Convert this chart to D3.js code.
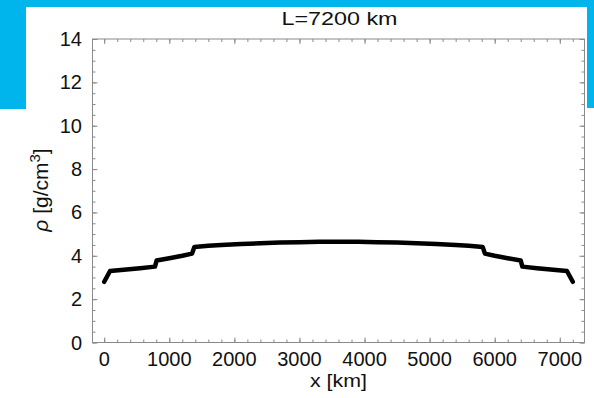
<!DOCTYPE html>
<html>
<head>
<meta charset="utf-8">
<script src="https://cdn.jsdelivr.net/npm/d3@7"></script>
<style>
  html, body { margin: 0; padding: 0; background: #fff; }
  svg { display: block; }
  text { font-family: "Liberation Sans", Arial, Helvetica, sans-serif; fill: #111; }
</style>
</head>
<body>
<svg id="chart" width="594" height="398"></svg>
<script>
// Density along a 7200 km chord through the Earth
const xKm = [0, 90, 300, 550, 780, 805, 1000, 1200, 1350, 1385, 1600, 1800, 2100, 2400, 2700, 3000, 3300, 3600,
             3900, 4200, 4500, 4800, 5100, 5400, 5600, 5815, 5850, 6000, 6200, 6400, 6425, 6650, 6900, 7110, 7200];
const rho = [2.8, 3.3, 3.36, 3.43, 3.5, 3.78, 3.89, 4.0, 4.1, 4.4, 4.46, 4.5, 4.54, 4.58, 4.61, 4.63, 4.645, 4.65,
             4.645, 4.63, 4.61, 4.58, 4.54, 4.5, 4.46, 4.4, 4.1, 4.0, 3.89, 3.78, 3.5, 3.43, 3.36, 3.3, 2.8];

const xTicks = [0, 1000, 2000, 3000, 4000, 5000, 6000, 7000];
const yTicks = [0, 2, 4, 6, 8, 10, 12, 14];
const titleText = "L=7200 km";

const svg = d3.select("#chart");
const W = 594, H = 398;

// page decoration: cyan band and side blocks behind a white panel
const cyan = "#00b5ec";
svg.append("rect").attr("x", 0).attr("y", 0).attr("width", W).attr("height", 7).attr("fill", cyan);
svg.append("rect").attr("x", 0).attr("y", 0).attr("width", 26).attr("height", 109).attr("fill", cyan);
svg.append("rect").attr("x", 587).attr("y", 0).attr("width", 7).attr("height", 108).attr("fill", cyan);

const plot = { left: 92.5, right: 584.5, top: 39, bottom: 342.5 };

const x = d3.scaleLinear().domain([-180, 7380]).range([plot.left, plot.right]);
const y = d3.scaleLinear().domain([0, 14]).range([plot.bottom, plot.top]);

const frameColor = "#8a8a8a";

// strip an axis down to its tick marks
function tickLines(g) { g.select(".domain").remove(); g.selectAll("text").remove(); g.selectAll("line").attr("stroke", frameColor); }

const xMinor = d3.range(0, 7201, 200);
const yMinor = d3.range(0, 14.01, 0.5);

// minor + major ticks, drawn inward on all four sides
svg.append("g").attr("transform", `translate(0,${plot.bottom})`)
  .call(d3.axisTop(x).tickValues(xMinor).tickSize(3)).call(tickLines);
svg.append("g").attr("transform", `translate(0,${plot.bottom})`)
  .call(d3.axisTop(x).tickValues(xTicks).tickSize(5)).call(tickLines);
svg.append("g").attr("transform", `translate(0,${plot.top})`)
  .call(d3.axisBottom(x).tickValues(xMinor).tickSize(3)).call(tickLines);
svg.append("g").attr("transform", `translate(0,${plot.top})`)
  .call(d3.axisBottom(x).tickValues(xTicks).tickSize(5)).call(tickLines);

svg.append("g").attr("transform", `translate(${plot.left},0)`)
  .call(d3.axisRight(y).tickValues(yMinor).tickSize(3)).call(tickLines);
svg.append("g").attr("transform", `translate(${plot.left},0)`)
  .call(d3.axisRight(y).tickValues(yTicks).tickSize(5)).call(tickLines);
svg.append("g").attr("transform", `translate(${plot.right},0)`)
  .call(d3.axisLeft(y).tickValues(yMinor).tickSize(3)).call(tickLines);
svg.append("g").attr("transform", `translate(${plot.right},0)`)
  .call(d3.axisLeft(y).tickValues(yTicks).tickSize(5)).call(tickLines);

// frame
svg.append("rect")
  .attr("x", plot.left).attr("y", plot.top)
  .attr("width", plot.right - plot.left).attr("height", plot.bottom - plot.top)
  .attr("fill", "none").attr("stroke", frameColor).attr("stroke-width", 1);

// tick labels
svg.append("g").selectAll("text").data(xTicks).join("text")
  .attr("x", d => x(d)).attr("y", 366)
  .attr("text-anchor", "middle").attr("font-size", 20)
  .text(d => d);
svg.append("g").selectAll("text").data(yTicks).join("text")
  .attr("x", 82).attr("y", d => y(d) + 7)
  .attr("text-anchor", "end").attr("font-size", 20)
  .text(d => d);

// density curve
const line = d3.line().x((d, i) => x(xKm[i])).y(d => y(d));
svg.append("path").datum(rho)
  .attr("d", line).attr("fill", "none")
  .attr("stroke", "#000").attr("stroke-width", 4.5)
  .attr("stroke-linejoin", "round").attr("stroke-linecap", "round");

// title and axis labels
svg.append("text").attr("x", 339.5).attr("y", 25)
  .attr("text-anchor", "middle").attr("font-size", 19)
  .attr("textLength", 116).attr("lengthAdjust", "spacingAndGlyphs")
  .text(titleText);
svg.append("text").attr("x", 338.5).attr("y", 387)
  .attr("text-anchor", "middle").attr("font-size", 19)
  .attr("textLength", 57).attr("lengthAdjust", "spacingAndGlyphs")
  .text("x [km]");

const yl = svg.append("text")
  .attr("transform", "translate(48,190) rotate(-90)")
  .attr("text-anchor", "middle").attr("font-size", 21);
yl.append("tspan").attr("font-style", "italic").text("ρ");
yl.append("tspan").text(" [g/cm");
yl.append("tspan").attr("font-size", 15).attr("dy", -8).text("3");
yl.append("tspan").attr("dy", 8).text("]");
</script>
</body>
</html>
